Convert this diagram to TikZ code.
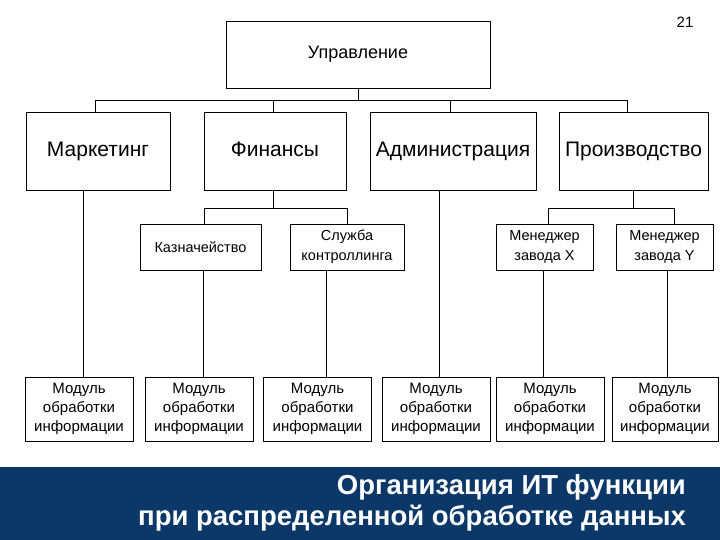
\documentclass[tikz,border=0pt]{standalone}
\usepackage{fontspec}
\setmainfont{Liberation Sans}
\begin{document}
\begin{tikzpicture}[x=1pt,y=-1pt,
  box/.style={draw,line width=0.8pt,inner sep=0pt,align=center},
  ln/.style={line width=0.8pt}]
\useasboundingbox (0,0) rectangle (720,540);
\fill[white] (0,0) rectangle (720,540);
% level 1
\node[box,minimum width=264,minimum height=67,font=\fontsize{18}{20}\selectfont,text height=13,text depth=4] (top) at (358,54.5) {Управление};
% level 2
\tikzset{l2/.style={box,minimum height=78,text height=16,text depth=5,font=\fontsize{21}{24}\selectfont}}
\node[l2,minimum width=144] (mark) at (98,151) {Маркетинг};
\node[l2,minimum width=142] (fin) at (275,151) {Финансы};
\node[l2,minimum width=166] (adm) at (453,151) {Администрация};
\node[l2,minimum width=149] (prod) at (633.5,151) {Производство};
% level 3
\tikzset{l3/.style={box,minimum height=46,font=\fontsize{14.5}{20}\selectfont}}
\node[l3,minimum width=121] (kaz) at (200.5,247) {Казначейство};
\node[l3,minimum width=114] (sk) at (347,247) {Служба\\контроллинга};
\node[l3,minimum width=97] (mx) at (544.5,247) {Менеджер\\завода X};
\node[l3,minimum width=97] (my) at (664.5,247) {Менеджер\\завода Y};
% modules
\tikzset{md/.style={box,minimum height=64,minimum width=108,font=\fontsize{15}{19}\selectfont}}
\node[md] (m1) at (79,409) {Модуль\\обработки\\информации};
\node[md] (m2) at (199,409) {Модуль\\обработки\\информации};
\node[md] (m3) at (317.5,409) {Модуль\\обработки\\информации};
\node[md] (m4) at (436,409) {Модуль\\обработки\\информации};
\node[md] (m5) at (550,409) {Модуль\\обработки\\информации};
\node[md,minimum width=106] (m6) at (665,409) {Модуль\\обработки\\информации};
% connectors
\draw[ln] (top.south) -- ++(0,12) -| ([xshift=-3]mark.north);
\draw[ln] (top.south) -- ++(0,12) -| ([xshift=-2]fin.north);
\draw[ln] (top.south) -- ++(0,12) -| ([xshift=-3]adm.north);
\draw[ln] (top.south) -- ++(0,12) -| ([xshift=-6.5]prod.north);
\draw[ln] ([xshift=-2]fin.south) -- ++(0,18) -| ([xshift=3.5]kaz.north);
\draw[ln] ([xshift=-2]fin.south) -- ++(0,18) -| (sk.north);
\draw[ln] (prod.south) -- ++(0,18) -| ([xshift=3.5]mx.north);
\draw[ln] (prod.south) -- ++(0,18) -| ([xshift=9.5]my.north);
\draw[ln] ([xshift=4]m1.north) -- ([xshift=4]m1.north |- mark.south);
\draw[ln] ([xshift=4]m2.north) -- ([xshift=4]m2.north |- kaz.south);
\draw[ln] ([xshift=9]m3.north) -- ([xshift=9]m3.north |- sk.south);
\draw[ln] ([xshift=3]m4.north) -- ([xshift=3]m4.north |- adm.south);
\draw[ln] ([xshift=-7]m5.north) -- ([xshift=-7]m5.north |- mx.south);
\draw[ln] ([xshift=2]m6.north) -- ([xshift=2]m6.north |- my.south);
% page number
\node[font=\fontsize{15}{16}\selectfont] (pg) at (685,22) {21};
% banner
\fill[fill={rgb,255:red,11;green,56;blue,104}] (0,467) rectangle (720,540);
\node[anchor=east,font=\bfseries\fontsize{27.5}{31}\selectfont,text=white,align=right,inner sep=0pt] (title) at (686,503) {Организация ИТ функции\\при распределенной обработке данных};
\node[font=\fontsize{9}{10}\selectfont,text={rgb,255:red,40;green,50;blue,70},inner sep=0pt] (pg2) at (669,508) {21};
\end{tikzpicture}
\end{document}
